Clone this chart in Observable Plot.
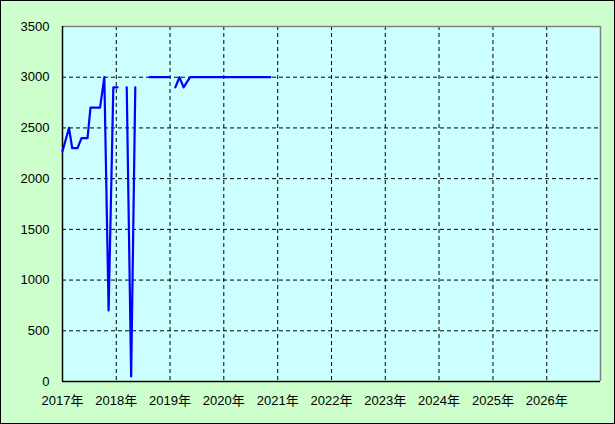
<!DOCTYPE html>
<html>
<head>
<meta charset="utf-8">
<script src="https://cdn.jsdelivr.net/npm/d3@7"></script>
<script src="https://cdn.jsdelivr.net/npm/@observablehq/plot@0.6"></script>
<style>
  html, body { margin: 0; padding: 0; background: #ffffff; }
  #wrap { width: 613px; height: 422px; border: 1px solid #000; background: #CCFFCC; overflow: hidden; }
  #wrap svg { display: block; }
</style>
</head>
<body>
<div id="wrap"></div>
<script>
// Observation dates (null value = gap in the series)
const dates = [
  "2017-01-01","2017-02-14","2017-03-08","2017-04-13","2017-05-10","2017-06-20",
  "2017-07-10","2017-09-13","2017-10-12","2017-11-10","2017-12-12","2018-01-10",
  "2018-02-10","2018-03-13","2018-04-12","2018-05-10","2018-06-15","2018-08-15",
  "2018-12-22","2019-01-15","2019-02-06","2019-03-06","2019-04-03","2019-05-17",
  "2020-11-12"
];
const values = [
  2270, 2500, 2300, 2300, 2400, 2400,
  2700, 2700, 3000, 700, 2900, 2900,
  null, 2900, 50, 2900, null, 3000,
  3000, null, 2900, 3000, 2900, 3000,
  3000
];
const years = [2017, 2018, 2019, 2020, 2021, 2022, 2023, 2024, 2025, 2026];
const yearLabels = ["2017年","2018年","2019年","2020年","2021年","2022年","2023年","2024年","2025年","2026年"];
const yTicks = [0, 500, 1000, 1500, 2000, 2500, 3000, 3500];

const data = dates.map((d, i) => ({date: new Date(d + "T00:00:00Z"), value: values[i]}));
const yearDates = years.map(y => new Date(Date.UTC(y, 0, 1)));
const xStart = new Date(Date.UTC(2017, 0, 1));
const xEnd = new Date(Date.UTC(2027, 0, 1));
const innerYears = yearDates.slice(1);
const innerY = yTicks.slice(1, -1);

const chart = Plot.plot({
  width: 613,
  height: 422,
  marginLeft: 61,
  marginRight: 14,
  marginTop: 25,
  marginBottom: 42,
  style: {
    fontFamily: "'Liberation Sans', 'Noto Sans CJK JP', sans-serif",
    fontSize: "13px",
    color: "#000",
    background: "transparent",
    overflow: "visible"
  },
  x: {type: "utc", domain: [xStart, xEnd]},
  y: {domain: [0, 3500]},
  marks: [
    Plot.frame({fill: "#CCFFFF", stroke: "none"}),
    Plot.ruleX(innerYears, {stroke: "#000", strokeDasharray: "4,3", strokeWidth: 1}),
    Plot.ruleY(innerY, {stroke: "#000", strokeDasharray: "4,3", strokeWidth: 1}),
    Plot.ruleY([3500], {stroke: "#808080", strokeWidth: 1.5}),
    Plot.ruleX([xEnd], {stroke: "#808080", strokeWidth: 1.5}),
    Plot.ruleX([xStart], {stroke: "#000", strokeWidth: 1.5}),
    Plot.ruleY([0], {stroke: "#000", strokeWidth: 1.5}),
    Plot.axisX(yearDates, {
      tickSize: 0, tickPadding: 14,
      tickFormat: d => yearLabels[years.indexOf(d.getUTCFullYear())],
      label: null
    }),
    Plot.axisY(yTicks, {tickSize: 0, tickPadding: 13, tickFormat: d => String(d), label: null}),
    Plot.line(data, {
      x: "date", y: "value",
      defined: d => d.value != null,
      stroke: "#0000FF", strokeWidth: 2.2, curve: "linear"
    })
  ]
});
document.getElementById("wrap").appendChild(chart);
</script>
</body>
</html>
